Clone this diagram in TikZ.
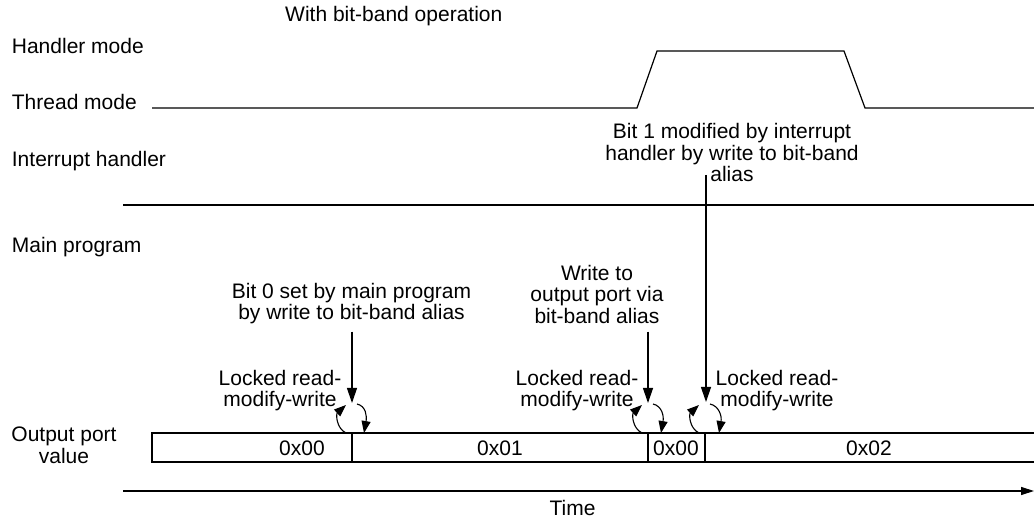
\documentclass[tikz,border=0pt]{standalone}
\usepackage{fontspec}
\setmainfont{Liberation Sans}
\usetikzlibrary{arrows.meta}
\begin{document}
\begin{tikzpicture}[x=1pt,y=-1pt,
  lbl/.style={font=\fontsize{21}{21.5}\selectfont, inner sep=0pt, align=center},
  wire/.style={line width=1.2pt, black},
  arr/.style={line width=1.2pt, -{Triangle[length=15pt,width=10pt]}},
  carr/.style={line width=1.1pt, -{Triangle[length=12pt,width=9pt]}}]
\useasboundingbox (0,0) rectangle (1034,521);
% title and left labels
\node[lbl, anchor=base west] (title) at (285,21.7) {With bit-band operation};
\node[lbl, anchor=base west] (hm) at (11.7,53.3) {Handler mode};
\node[lbl, anchor=base west] (tm) at (11.7,110) {Thread mode};
\node[lbl, anchor=base west] (ih) at (11.7,166.7) {Interrupt handler};
\node[lbl, anchor=base west] (mp) at (11.7,253) {Main program};
\node[lbl, anchor=base] (opv) at (64,463.3) {Output port\\value};
% mode waveform
\coordinate (w0) at (152,108);
\coordinate (w1) at (637,108);
\coordinate (w2) at (657,51);
\coordinate (w3) at (844,51);
\coordinate (w4) at (865,108);
\coordinate (w5) at (1034,108);
\draw[wire] (w0) -- (w1) -- (w2) -- (w3) -- (w4) -- (w5);
% interrupt separator
\coordinate (s0) at (123,205);
\coordinate (s1) at (1034,205);
\draw[wire] (s0) -- (s1);
% output port bar
\coordinate (b0) at (152,433);
\coordinate (b1) at (1034,433);
\coordinate (b2) at (152,462);
\coordinate (b3) at (1034,462);
\coordinate (d1) at (352,433);
\coordinate (d2) at (648,433);
\coordinate (d3) at (705,433);
\draw[wire] (b1) -- (b0) -- (b2) -- (b3);
\draw[wire] (d1) -- (d1 |- b2);
\draw[wire] (d2) -- (d2 |- b2);
\draw[wire] (d3) -- (d3 |- b2);
\node[lbl, anchor=base] (v1) at (302,455) {0x00};
\node[lbl, anchor=base] (v2) at (500,455) {0x01};
\node[lbl, anchor=base] (v3) at (676,455) {0x00};
\node[lbl, anchor=base] (v4) at (869,455) {0x02};
% annotations
\node[lbl, anchor=base] (bit1) at (732,181.7) {Bit 1 modified by interrupt\\handler by write to bit-band\\alias};
\node[lbl, anchor=base] (bit0) at (351.5,320) {Bit 0 set by main program\\by write to bit-band alias};
\node[lbl, anchor=base] (wr) at (597,323.3) {Write to\\output port via\\bit-band alias};
\node[lbl, anchor=base] (lk1) at (280,406.5) {Locked read-\\modify-write};
\node[lbl, anchor=base] (lk2) at (577,406.5) {Locked read-\\modify-write};
\node[lbl, anchor=base] (lk3) at (777,406.5) {Locked read-\\modify-write};
% arrows
\coordinate (a1s) at (352,331.7);
\coordinate (a1e) at (352,403);
\coordinate (a2s) at (648,331.7);
\coordinate (a2e) at (648,403);
\coordinate (a3s) at (706,175);
\coordinate (a3e) at (706,402);
\draw[arr] (a1s) -- (a1e);
\draw[arr] (a2s) -- (a2e);
\draw[arr] (a3s) -- (a3e);
% curved read-modify-write arrows
\foreach \d/\r in {352/13, 648/14, 705/15}{
  \draw[carr] (\d-6,433) .. controls (\d-16,428) and (\d-16,414) .. (\d-6,405);
  \draw[carr] (\d+5,404) .. controls (\d+14,406) and (\d+\r+2,416) .. (\d+\r-1,433);
}
% time axis
\coordinate (t0) at (123,491);
\coordinate (t1) at (1034,491);
\draw[line width=1.2pt, -{Triangle[length=13pt,width=8pt]}] (t0) -- (t1);
\node[lbl, anchor=base] (time) at (572.5,515) {Time};
\end{tikzpicture}
\end{document}
